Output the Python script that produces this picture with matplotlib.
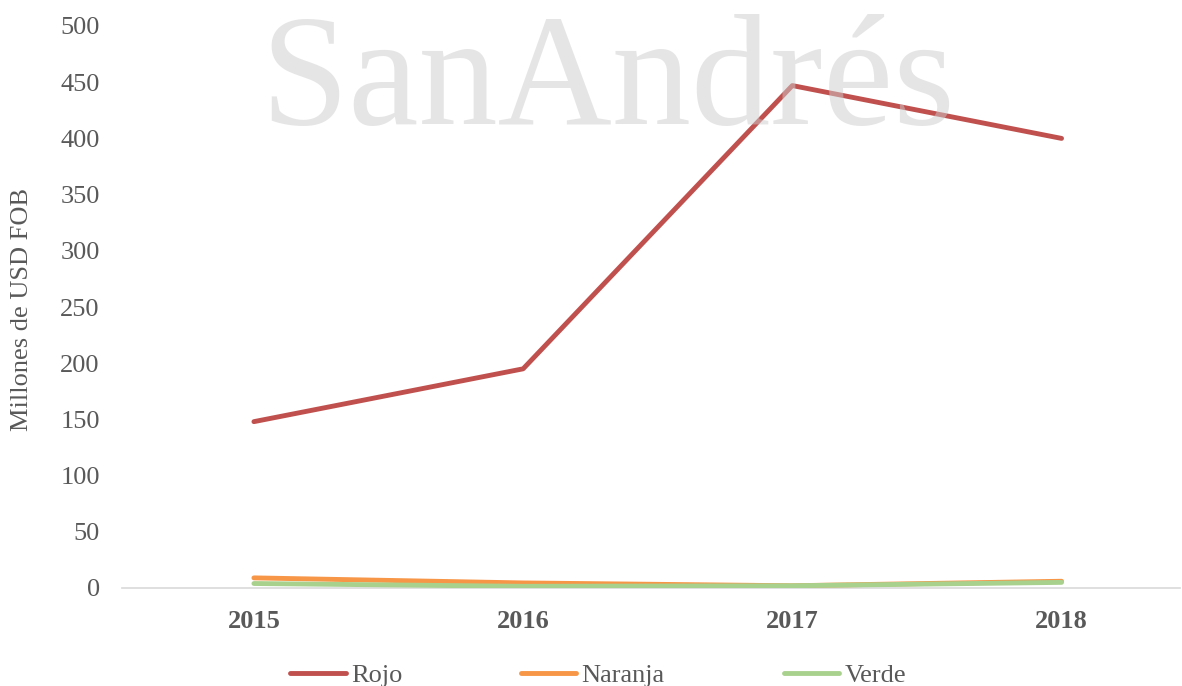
import matplotlib.pyplot as plt

years = ['2015', '2016', '2017', '2018']
rojo = [148, 195, 447, 400]
naranja = [9, 4.5, 2, 6]
verde = [4, 1.5, 2, 5]

plt.rcParams['font.family'] = ['Liberation Serif', 'DejaVu Serif']
txt = '#595959'

fig = plt.figure(figsize=(11.82, 6.86), dpi=100)
W, H = 1182, 686
ax = fig.add_axes([122 / W, 1 - 588 / H, (1180 - 122) / W, (588 - 26) / H])

x = range(len(years))
ax.plot(x, rojo, color='#c0504d', lw=3.5, label='Rojo', solid_capstyle='round', zorder=3)
ax.plot(x, naranja, color='#f79646', lw=3.5, label='Naranja', solid_capstyle='round', zorder=3)
ax.plot(x, verde, color='#a9d18e', lw=3.5, label='Verde', solid_capstyle='round', zorder=3)

# watermark, semi-transparent on top of the lines
fig.text(608 / W, 1 - 124 / H, 'SanAndrés', ha='center', va='baseline',
         fontsize=114, color='#cccccc', alpha=0.5, zorder=10)

ax.set_xlim(-0.49, 3.44)
ax.set_ylim(0, 500)
ax.set_yticks(range(0, 501, 50))
ax.set_xticks(list(x))
ax.set_xticklabels(years, fontweight='bold')
ax.tick_params(axis='both', length=0, labelsize=19, colors=txt)
ax.tick_params(axis='x', pad=16)
ax.tick_params(axis='y', pad=16)
for s in ['top', 'right', 'left']:
    ax.spines[s].set_visible(False)
ax.spines['bottom'].set_color('#d9d9d9')
ax.spines['bottom'].set_linewidth(1.2)
ax.patch.set_alpha(0)

fig.text(22 / W, 1 - 310 / H, 'Millones de USD FOB', rotation=90, ha='center',
         va='center', fontsize=19, color=txt)

fig.legend(loc='center', bbox_to_anchor=(598 / W, 1 - 675 / H), ncol=3,
           frameon=False, fontsize=19, labelcolor=txt, handlelength=2.1,
           handletextpad=0.2, columnspacing=4.5)

fig.savefig('out.png', dpi=100)
